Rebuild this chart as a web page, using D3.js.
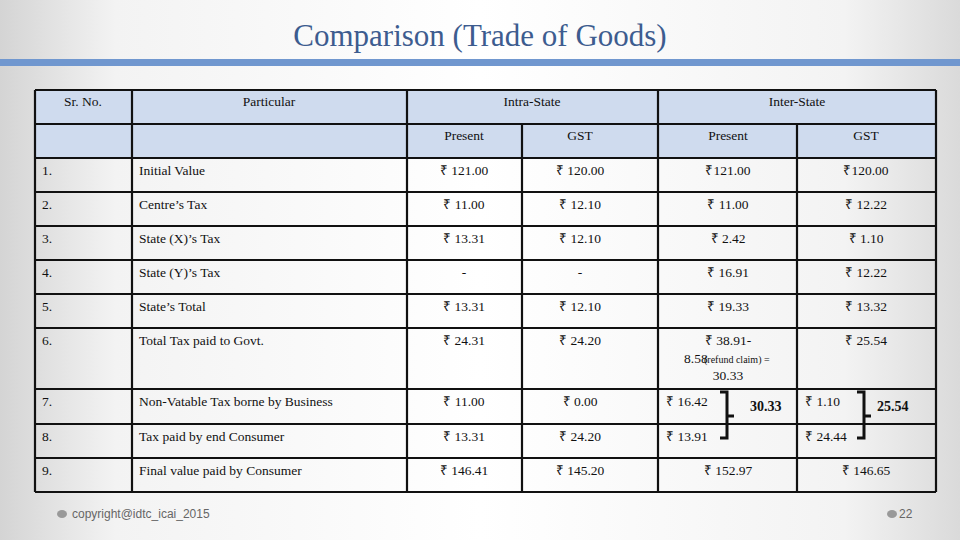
<!DOCTYPE html><html><head><meta charset="utf-8">
<script src="https://cdn.jsdelivr.net/npm/d3@7"></script>
<style>body{margin:0}svg{display:block}</style></head><body>
<script>
const srNos=["1.","2.","3.","4.","5.","6.","7.","8.","9."];
const particulars=["Initial Value","Centre’s Tax","State (X)’s Tax","State (Y)’s Tax","State’s Total","Total Tax paid to Govt.","Non-Vatable Tax borne by Business","Tax paid by end Consumer","Final value paid by Consumer"];
const intraPresent=["₹ 121.00","₹ 11.00","₹ 13.31","-","₹ 13.31","₹ 24.31","₹ 11.00","₹ 13.31","₹ 146.41"];
const intraGST=["₹ 120.00","₹ 12.10","₹ 12.10","-","₹ 12.10","₹ 24.20","₹ 0.00","₹ 24.20","₹ 145.20"];
const interPresent=["₹121.00","₹ 11.00","₹ 2.42","₹ 16.91","₹ 19.33","₹ 38.91-","₹ 16.42","₹ 13.91","₹ 152.97"];
const interGST=["₹120.00","₹ 12.22","₹ 1.10","₹ 12.22","₹ 13.32","₹ 25.54","₹ 1.10","₹ 24.44","₹ 146.65"];
const bracketTotals=["30.33","25.54"];

const W=960,H=540;
const svg=d3.select("body").append("svg").attr("width",W).attr("height",H);
const defs=svg.append("defs");
const g=defs.append("linearGradient").attr("id","bg");
g.append("stop").attr("offset","0").attr("stop-color","#d4d4d4");
g.append("stop").attr("offset","0.12").attr("stop-color","#f3f3f3");
g.append("stop").attr("offset","0.5").attr("stop-color","#ffffff");
g.append("stop").attr("offset","0.88").attr("stop-color","#f3f3f3");
g.append("stop").attr("offset","1").attr("stop-color","#dadada");
svg.append("rect").attr("width",W).attr("height",H).attr("fill","url(#bg)");
svg.append("text").attr("x",480).attr("y",46).attr("text-anchor","middle").attr("font-family","Liberation Serif").attr("font-size",31).attr("fill","#3d5c8f").text("Comparison (Trade of Goods)");
svg.append("rect").attr("x",0).attr("y",59).attr("width",W).attr("height",7).attr("fill","#7097cf");

const rowB=[158,192,226,260,294,328,389,424,458,492];
const rowTop=i=>rowB[i];
const font="Liberation Serif";
svg.append("rect").attr("x",35).attr("y",90).attr("width",901).attr("height",68).attr("fill","#cfdbee");
const T=(x,yy,s,anchor,opt={})=>svg.append("text").attr("x",x).attr("y",yy).attr("text-anchor",anchor||"start").attr("font-family",font).attr("font-size",opt.size||13.5).attr("font-weight",opt.bold?"bold":"normal").attr("fill","#111").text(s);
T(83,106,"Sr. No.","middle");T(269,106,"Particular","middle");T(532,106,"Intra-State","middle");T(797,106,"Inter-State","middle");
[["Present",464],["GST",580],["Present",728],["GST",866]].forEach(d=>T(d[1],140,d[0],"middle"));
const lines=svg.append("g").attr("stroke","#111").attr("stroke-width",2.2);
const L=(x1,y1,x2,y2)=>lines.append("line").attr("x1",x1).attr("y1",y1).attr("x2",x2).attr("y2",y2);
L(35,90,936,90);L(35,124,936,124);
rowB.forEach(b=>L(35,b,936,b));
[35,132,407,658,936].forEach(x=>L(x,90,x,492));
L(522,124,522,492);L(797,124,797,492);
srNos.forEach((s,i)=>{
  const ty=rowTop(i)+17;
  T(42,ty,s);T(139,ty,particulars[i]);
  T(464,ty,intraPresent[i],"middle");T(580,ty,intraGST[i],"middle");
  if(i===6||i===7){T(666,ty,interPresent[i]);T(805,ty,interGST[i]);}
  else {T(728,ty,interPresent[i],"middle");T(866,ty,interGST[i],"middle");}
});
T(684,363,"8.58 ","start");
svg.append("text").attr("x",704).attr("y",363).attr("font-family",font).attr("font-size",10).attr("fill","#111").text("(refund claim) =");
T(728,380,"30.33","middle");
const bk=svg.append("g").attr("stroke","#111").attr("stroke-width",3).attr("fill","none");
[[727,bracketTotals[0],750],[864,bracketTotals[1],877]].forEach(([x,t,tx])=>{
  bk.append("path").attr("d",`M${x-7},392H${x}V438H${x-7}M${x},416H${x+7}`);
  T(tx,411,t,"start",{bold:true,size:14});
});
svg.append("ellipse").attr("cx",62).attr("cy",514).attr("rx",5).attr("ry",4).attr("fill","#999");
svg.append("text").attr("x",72).attr("y",518).attr("font-family","Liberation Sans").attr("font-size",12).attr("fill","#666").text("copyright@idtc_icai_2015");
svg.append("ellipse").attr("cx",892).attr("cy",514).attr("rx",5).attr("ry",4).attr("fill","#999");
svg.append("text").attr("x",899).attr("y",518).attr("font-family","Liberation Sans").attr("font-size",12).attr("fill","#666").text("22");
</script></body></html>
